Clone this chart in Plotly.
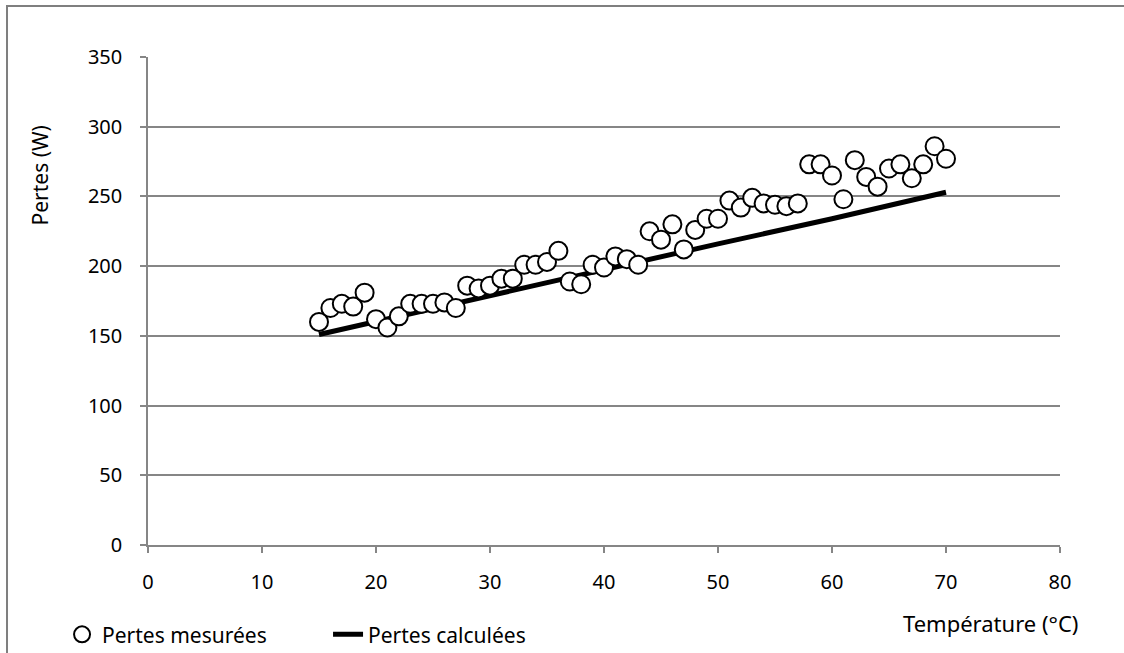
import plotly.graph_objects as go

# measured losses vs temperature
temp_mes = [15, 16, 17, 18, 19, 20, 21, 22, 23, 24, 25, 26, 27, 28,
            29, 30, 31, 32, 33, 34, 35, 36, 37, 38, 39, 40, 41, 42,
            43, 44, 45, 46, 47, 48, 49, 50, 51, 52, 53, 54, 55, 56,
            57, 58, 59, 60, 61, 62, 63, 64, 65, 66, 67, 68, 69, 70]
pertes_mes = [160, 170, 173, 171, 181, 162, 156, 164, 173, 173, 173, 174, 170, 186,
              184, 186, 191, 191, 201, 201, 203, 211, 189, 187, 201, 199, 207, 205,
              201, 225, 219, 230, 212, 226, 234, 234, 247, 242, 249, 245, 244, 243,
              245, 273, 273, 265, 248, 276, 264, 257, 270, 273, 263, 273, 286, 277]

# calculated losses
temp_calc = [15, 30, 40, 50, 60, 70]
pertes_calc = [151, 179, 197, 216, 234, 253]

x_ticks = [0, 10, 20, 30, 40, 50, 60, 70, 80]
y_ticks = [0, 50, 100, 150, 200, 250, 300, 350]

FONT = "Noto Sans"
FS = 20
GRID = "#868686"

fig = go.Figure()

fig.add_trace(go.Scatter(
    x=temp_calc, y=pertes_calc, mode="lines", name="Pertes calculées",
    line=dict(color="black", width=5),
))
fig.add_trace(go.Scatter(
    x=temp_mes, y=pertes_mes, mode="markers", name="Pertes mesurées",
    marker=dict(symbol="circle", size=18, color="white",
                line=dict(color="black", width=2)),
))

fig.update_layout(
    width=1124, height=653, autosize=False,
    margin=dict(l=148, r=64, t=57, b=108),
    paper_bgcolor="white", plot_bgcolor="white",
    font=dict(family=FONT, size=FS, color="black"),
    showlegend=True,
    # legend placed in container coords so it does not push the bottom margin
    legend=dict(orientation="h", xref="container", yref="container",
                x=0.0552, xanchor="left", y=0.028, yanchor="middle",
                traceorder="reversed", bgcolor="rgba(0,0,0,0)",
                font=dict(family=FONT, size=21), itemwidth=30,
                entrywidth=221, entrywidthmode="pixels"),
    xaxis=dict(range=[0, 80], tickvals=x_ticks, showgrid=False, zeroline=False,
               showline=True, linecolor=GRID, linewidth=1.5,
               ticks="outside", ticklen=6, tickcolor=GRID, tickwidth=1.5,
               ticklabelstandoff=12),
    yaxis=dict(range=[0, 350], tickvals=y_ticks, showgrid=True, gridcolor=GRID,
               gridwidth=1.5, zeroline=False,
               showline=True, linecolor=GRID, linewidth=1.5,
               ticks="outside", ticklen=6, tickcolor=GRID, tickwidth=1.5,
               ticklabelstandoff=14),
    annotations=[
        dict(text="Pertes (W)", textangle=-90, xref="paper", yref="paper",
             x=-0.118, y=0.758, xanchor="center", yanchor="middle",
             showarrow=False, font=dict(family=FONT, size=21)),
        dict(text="Température (°C)", xref="paper", yref="paper",
             x=1.022, y=-0.160, xanchor="right", yanchor="middle",
             showarrow=False, font=dict(family=FONT, size=22)),
    ],
    shapes=[
        dict(type="rect", xref="paper", yref="paper",
             x0=-0.1546, x1=1.08, y0=-0.24, y1=1.1045,
             line=dict(color="#7f7f7f", width=2), fillcolor="rgba(0,0,0,0)",
             layer="below"),
    ],
)

# drop the default 8px page margin so the figure sits at the window corner
fig.write_html("out.html",
               config={"responsive": False, "displayModeBar": False},
               post_script="document.body.style.margin='0';")
